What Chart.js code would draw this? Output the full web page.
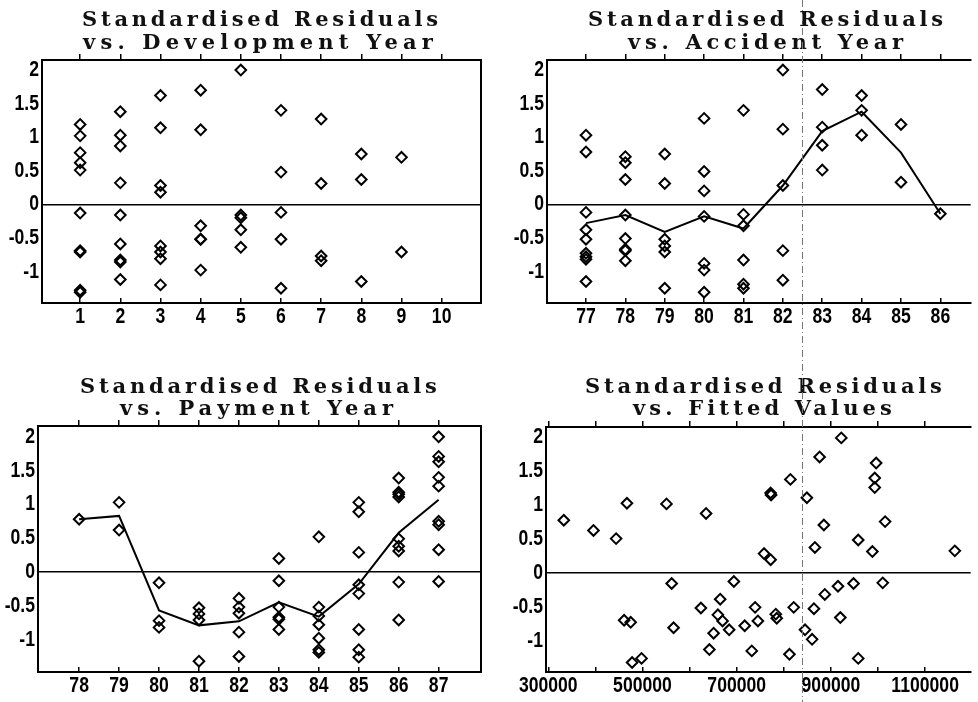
<!DOCTYPE html>
<html>
<head>
<meta charset="utf-8">
<script src="https://cdn.jsdelivr.net/npm/chart.js@4.4.1/dist/chart.umd.min.js"></script>
<style>
html,body{margin:0;padding:0;background:#fff;overflow:hidden;width:978px;height:702px;position:relative}
canvas{position:absolute}
.t{position:absolute;font-family:"DejaVu Serif","Liberation Serif",serif;font-weight:bold;font-size:21px;line-height:23px;white-space:nowrap;color:#111}
#scan{position:absolute;left:802px;top:0;width:1px;height:702px;background:repeating-linear-gradient(to bottom,#777 0 7px,transparent 7px 10px,#777 10px 11px,transparent 11px 14px)}
</style>
</head>
<body>
<canvas id="c1" width="490" height="345" style="left:0;top:0"></canvas>
<canvas id="c2" width="488" height="345" style="left:490px;top:0"></canvas>
<canvas id="c3" width="490" height="357" style="left:0;top:345px"></canvas>
<canvas id="c4" width="488" height="357" style="left:490px;top:345px"></canvas>

<div class="t" data-w="356" style="left:82px;top:7px">Standardised Residuals</div>
<div class="t" data-w="350" style="left:83px;top:30px">vs. Development Year</div>
<div class="t" data-w="355" style="left:588px;top:7px">Standardised Residuals</div>
<div class="t" data-w="275" style="left:628px;top:30px">vs. Accident Year</div>
<div class="t" data-w="357" style="left:80px;top:374px">Standardised Residuals</div>
<div class="t" data-w="273" style="left:120px;top:396px">vs. Payment Year</div>
<div class="t" data-w="357" style="left:585px;top:374px">Standardised Residuals</div>
<div class="t" data-w="259" style="left:633px;top:396px">vs. Fitted Values</div>
<div id="scan"></div>

<script>
// ---------------- data ----------------
const residTicks = [-1, -0.5, 0, 0.5, 1, 1.5, 2];

const devYearTicks = [1, 2, 3, 4, 5, 6, 7, 8, 9, 10];
const devYearX = [1,1,1,1,1,1,1,1,1,1,
  2,2,2,2,2,2,2,2,2,
  3,3,3,3,3,3,3,3,
  4,4,4,4,4,4,
  5,5,5,5,5,
  6,6,6,6,6,
  7,7,7,7,
  8,8,8,
  9,9];
const devYearResid = [1.19,1.02,0.77,0.62,0.51,-0.13,-0.69,-0.71,-1.28,-1.31,
  1.38,1.03,0.87,0.32,-0.16,-0.59,-0.83,-0.86,-1.12,
  1.62,1.14,0.28,0.18,-0.62,-0.71,-0.81,-1.20,
  1.70,1.11,-0.32,-0.52,-0.52,-0.98,
  2.00,-0.16,-0.20,-0.38,-0.64,
  1.40,0.48,-0.12,-0.52,-1.25,
  1.27,0.31,-0.77,-0.84,
  0.75,0.37,-1.15,
  0.70,-0.71];

const accYearTicks = [77, 78, 79, 80, 81, 82, 83, 84, 85, 86];
const accYearX = [77,77,77,77,77,77,77,77,77,
  78,78,78,78,78,78,78,78,
  79,79,79,79,79,79,
  80,80,80,80,80,80,80,
  81,81,81,81,81,81,
  82,82,82,82,82,
  83,83,83,83,
  84,84,84,
  85,85,
  86];
const accYearResid = [1.03,0.78,-0.12,-0.38,-0.52,-0.73,-0.78,-0.82,-1.15,
  0.71,0.62,0.37,-0.16,-0.51,-0.67,-0.69,-0.84,
  0.75,0.31,-0.52,-0.62,-0.71,-1.25,
  1.28,0.49,0.20,-0.18,-0.88,-0.98,-1.31,
  1.40,-0.15,-0.32,-0.83,-1.19,-1.25,
  2.00,1.12,0.28,-0.69,-1.13,
  1.71,1.15,0.88,0.51,
  1.62,1.40,1.03,
  1.19,0.33,
  -0.14];
const accYearMean = [-0.28, -0.16, -0.41, -0.18, -0.36, 0.28, 1.09, 1.38, 0.77, -0.14];

const payYearTicks = [78, 79, 80, 81, 82, 83, 84, 85, 86, 87];
const payYearX = [78,
  79,79,
  80,80,80,
  81,81,81,81,
  82,82,82,82,82,
  83,83,83,83,83,83,
  84,84,84,84,84,84,84,
  85,85,85,85,85,85,85,85,
  86,86,86,86,86,86,86,86,86,
  87,87,87,87,87,87,87,87,87];
const payYearResid = [0.78,
  1.03,0.62,
  -0.16,-0.72,-0.82,
  -0.53,-0.62,-0.71,-1.32,
  -0.39,-0.52,-0.61,-0.89,-1.25,
  0.20,-0.13,-0.52,-0.67,-0.70,-0.85,
  0.52,-0.52,-0.65,-0.78,-0.98,-1.15,-1.19,
  1.03,0.89,0.29,-0.19,-0.32,-0.85,-1.15,-1.26,
  1.39,1.18,1.15,1.11,0.49,0.38,0.31,-0.15,-0.71,
  2.00,1.71,1.63,1.40,1.27,0.75,0.70,0.33,-0.14];
const payYearMean = [0.78, 0.83, -0.57, -0.79, -0.73, -0.45, -0.66, -0.18, 0.58, 1.07];

const fittedTicks = [300000, 400000, 500000, 600000, 700000, 800000, 900000, 1000000, 1100000];
const fittedLabels = [300000, 500000, 700000, 900000, 1100000];
const fittedX = [333000,396000,444000,467000,551000,635000,562000,461000,475000,566000,
  478000,498000,624000,665000,660000,670000,651000,642000,684000,694000,
  717000,732000,739000,745000,758000,772000,772000,773000,783000,785000,
  812000,814000,821000,845000,849000,860000,864000,866000,876000,885000,
  887000,915000,920000,922000,948000,958000,958000,988000,993000,993000,
  996000,1010000,1015000,1163000];
const fittedResid = [0.77,0.62,0.50,1.02,1.01,0.87,-0.16,-0.70,-0.73,-0.81,
  -1.32,-1.26,-0.52,-0.39,-0.62,-0.71,-0.89,-1.13,-0.84,-0.13,
  -0.78,-1.15,-0.51,-0.71,0.28,0.19,1.17,1.14,-0.61,-0.67,
  -1.20,1.37,-0.51,-0.84,1.10,-0.98,-0.53,0.37,1.70,0.70,
  -0.32,-0.20,-0.66,1.98,-0.16,0.48,-1.26,0.31,1.39,1.25,
  1.61,-0.15,0.75,0.32];

// ---------------- title letter spacing fit ----------------
(function fitTitles(){
  const m = document.createElement('canvas').getContext('2d');
  m.font = 'bold 21px "DejaVu Serif","Liberation Serif",serif';
  document.querySelectorAll('.t').forEach(el => {
    const txt = el.textContent;
    const nat = m.measureText(txt).width;
    const ls = (parseFloat(el.dataset.w) - nat) / (txt.length - 1);
    el.style.letterSpacing = ls.toFixed(2) + 'px';
  });
})();

// ---------------- charts ----------------
const TICK_SIZE = 22;
const tickFont = {family: '"Liberation Sans",Arial,sans-serif', size: TICK_SIZE, weight: 'bold'};

// draws the tick labels horizontally condensed (like the narrow face of the original)
const condense = {
  id: 'condense',
  beforeDraw(chart) {
    const ctx = chart.ctx;
    if (ctx.__cond) return;
    ctx.__cond = true;
    const orig = ctx.fillText;
    ctx.fillText = function(t, x, y, mw) {
      if ((mw === undefined || mw === null) && this.font.indexOf(TICK_SIZE + 'px') >= 0) {
        const w = this.measureText(t).width;
        return orig.call(this, t, x, y, w * 0.8);
      }
      return (mw === undefined || mw === null) ? orig.call(this, t, x, y) : orig.call(this, t, x, y, mw);
    };
  }
};

const rightFrame = {
  id: 'rightFrame',
  afterDraw(chart, args, opts) {
    if (!opts.show) return;
    const a = chart.chartArea, ctx = chart.ctx;
    ctx.save();
    ctx.strokeStyle = '#000';
    ctx.lineWidth = 2;
    ctx.beginPath();
    ctx.moveTo(a.right, a.top - 1);
    ctx.lineTo(a.right, a.bottom + 1);
    ctx.stroke();
    ctx.restore();
  }
};

function panel(id, o) {
  const datasets = [{
    data: o.x.map((v, i) => ({x: v, y: o.y[i]})),
    pointStyle: 'rectRot',
    pointRadius: 5.3,
    pointBorderWidth: 2,
    pointBackgroundColor: 'rgba(0,0,0,0)',
    pointBorderColor: '#000',
    showLine: false
  }];
  if (o.mean) {
    datasets.push({
      data: o.ticks.map((v, i) => ({x: v, y: o.mean[i]})),
      showLine: true,
      borderColor: '#000',
      borderWidth: 2,
      pointRadius: 0,
      fill: false
    });
  }
  const setX = s => { s.ticks = o.ticks.map(v => ({value: v})); };
  return new Chart(document.getElementById(id), {
    type: 'scatter',
    data: {datasets},
    plugins: [condense, rightFrame],
    options: {
      responsive: false,
      animation: false,
      events: [],
      layout: {padding: o.pad},
      plugins: {legend: {display: false}, tooltip: {enabled: false}, rightFrame: {show: o.rightFrame}},
      scales: {
        x: {
          type: 'linear', position: 'bottom', min: o.xMin, max: o.xMax,
          afterBuildTicks: setX,
          afterFit: s => { s.height = o.xH; },
          ticks: {font: tickFont, color: '#000', padding: 6, maxRotation: 0, autoSkip: false,
                  callback: o.xLabel || (v => String(v))},
          grid: {drawOnChartArea: false, drawTicks: true, tickLength: -5, color: '#000', lineWidth: 1.5},
          border: {display: true, color: '#000', width: 2}
        },
        xt: {
          type: 'linear', position: 'top', min: o.xMin, max: o.xMax,
          afterBuildTicks: setX,
          afterFit: s => { s.height = 8; },
          ticks: {display: false},
          grid: {drawOnChartArea: false, drawTicks: true, tickLength: 6, color: '#000', lineWidth: 1.5},
          border: {display: true, color: '#000', width: 2}
        },
        y: {
          type: 'linear', position: 'left', min: o.yMin, max: o.yMax,
          afterBuildTicks: s => { s.ticks = residTicks.map(v => ({value: v})); },
          afterFit: s => { s.width = o.yW; },
          ticks: {font: tickFont, color: '#000', padding: 3, callback: v => String(v)},
          grid: {drawTicks: false, lineWidth: 1.5,
                 color: c => (c.tick && c.tick.value === 0) ? '#000' : 'rgba(0,0,0,0)'},
          border: {display: true, color: '#000', width: 2}
        }
      }
    }
  });
}

panel('c1', {x: devYearX, y: devYearResid, ticks: devYearTicks,
  xMin: 0.05, xMax: 10.98, yMin: -1.47, yMax: 2.15,
  pad: {left: 0, right: 9, top: 52, bottom: 0}, yW: 42, xH: 42, rightFrame: true});

panel('c2', {x: accYearX, y: accYearResid, ticks: accYearTicks, mean: accYearMean,
  xMin: 76.01, xMax: 86.77, yMin: -1.47, yMax: 2.15,
  pad: {left: 0, right: 0, top: 52, bottom: 0}, yW: 57, xH: 42, rightFrame: false});

panel('c3', {x: payYearX, y: payYearResid, ticks: payYearTicks, mean: payYearMean,
  xMin: 76.97, xMax: 88.06, yMin: -1.48, yMax: 2.16,
  pad: {left: 0, right: 9, top: 73, bottom: 0}, yW: 38, xH: 30, rightFrame: true});

panel('c4', {x: fittedX, y: fittedResid, ticks: fittedTicks,
  xLabel: v => fittedLabels.includes(v) ? String(v) : '',
  xMin: 295200, xMax: 1196700, yMin: -1.46, yMax: 2.14,
  pad: {left: 0, right: 0, top: 74, bottom: 0}, yW: 56, xH: 30, rightFrame: false});
</script>
</body>
</html>
